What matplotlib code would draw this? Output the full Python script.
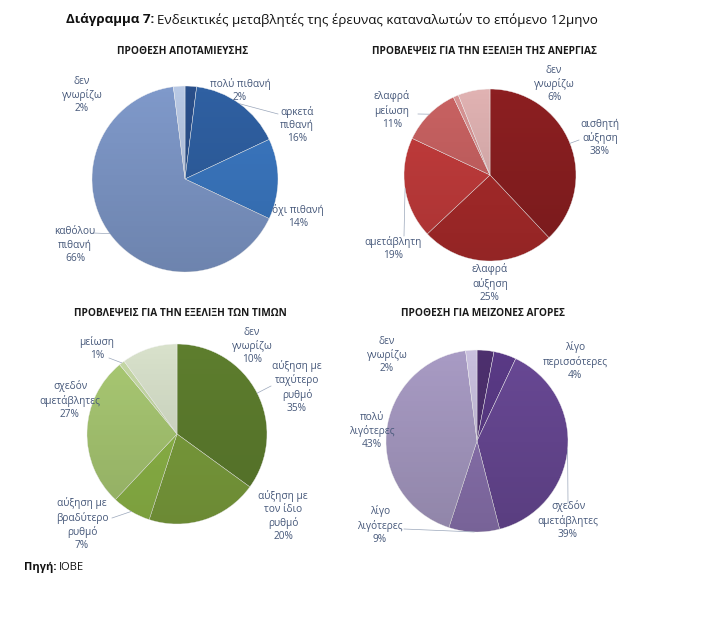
"""
Consumer survey indicators, next 12 months: four pies.
"""
import numpy as np
import matplotlib
matplotlib.use("Agg")
import matplotlib.pyplot as plt
from matplotlib.patches import Circle

plt.rcParams['font.family'] = ['Open Sans', 'DejaVu Sans']

# ---- data ----
saving_titles = "ΠΡΟΘΕΣΗ ΑΠΟΤΑΜΙΕΥΣΗΣ"
saving_labels = ["πολύ πιθανή", "αρκετά\nπιθανή", "όχι πιθανή", "καθόλου\nπιθανή", "δεν\nγνωρίζω"]
saving_values = [2, 16, 14, 66, 2]

unemp_title = "ΠΡΟΒΛΕΨΕΙΣ ΓΙΑ ΤΗΝ ΕΞΕΛΙΞΗ ΤΗΣ ΑΝΕΡΓΙΑΣ"
unemp_labels = ["αισθητή\nαύξηση", "ελαφρά\nαύξηση", "αμετάβλητη", "ελαφρά\nμείωση", "", "δεν\nγνωρίζω"]
unemp_values = [38, 25, 19, 11, 1, 6]

price_title = "ΠΡΟΒΛΕΨΕΙΣ ΓΙΑ ΤΗΝ ΕΞΕΛΙΞΗ ΤΩΝ ΤΙΜΩΝ"
price_labels = ["αύξηση με\nταχύτερο\nρυθμό", "αύξηση με\nτον ίδιο\nρυθμό", "αύξηση με\nβραδύτερο\nρυθμό",
                "σχεδόν\nαμετάβλητες", "μείωση", "δεν\nγνωρίζω"]
price_values = [35, 20, 7, 27, 1, 10]

purch_title = "ΠΡΟΘΕΣΗ ΓΙΑ ΜΕΙΖΟΝΕΣ ΑΓΟΡΕΣ"
purch_labels = ["", "λίγο\nπερισσότερες", "σχεδόν\nαμετάβλητες", "λίγο\nλιγότερες", "πολύ\nλιγότερες", "δεν\nγνωρίζω"]
purch_values = [3, 4, 39, 9, 43, 2]

# ---- styling / layout (pixels, y from top) ----
W, H = 710, 623
TXT = "#46587a"

charts = [
    dict(title=saving_titles, labels=saving_labels, values=saving_values,
         center=(185, 179), r=93, title_xy=(183, 51),
         colors=["#2a4f8a", "#2f60a2", "#3b78c2", "#7f99ca", "#b8c8e4"],
         pos=[(240, 90), (297, 125), (298, 216), (75, 245), (82, 95)],
         leaders=[None, (278, 114), None, (93, 233), None]),
    dict(title=unemp_title, labels=unemp_labels, values=unemp_values,
         center=(490, 175), r=86, title_xy=(485, 51),
         colors=["#8c1f21", "#ab2b2b", "#c43c3c", "#c96262", "#d89494", "#e0b2b2"],
         pos=[(600, 138), (490, 283), (393, 248), (392, 110), None, (554, 84)],
         leaders=[(579, 140), None, (404, 236), (418, 114), None, None]),
    dict(title=price_title, labels=price_labels, values=price_values,
         center=(177, 434), r=90, title_xy=(180, 313),
         colors=["#5e7e2e", "#7da03d", "#8fb848", "#a9c973", "#c6d9a6", "#d8e1cb"],
         pos=[(297, 387), (283, 516), (82, 524), (70, 400), (97, 349), (252, 346)],
         leaders=[(271, 386), None, (112, 518), None, (109, 358), None]),
    dict(title=purch_title, labels=purch_labels, values=purch_values,
         center=(477, 441), r=91, title_xy=(483, 313),
         colors=["#4d306e", "#5a3a86", "#684894", "#8b73b0", "#a89bc4", "#c9c0de"],
         pos=[None, (575, 361), (568, 520), (380, 525), (372, 431), (387, 355)],
         leaders=[None, None, (568, 503), (404, 529), None, None]),
]

fig = plt.figure(figsize=(W / 100, H / 100), dpi=100)
ax = fig.add_axes([0, 0, 1, 1])

for ch in charts:
    cx, cy = ch["center"][0], H - ch["center"][1]
    r = ch["r"]
    wedges, _ = ax.pie(ch["values"], colors=ch["colors"], startangle=90,
                       counterclock=False, center=(cx, cy), radius=r,
                       wedgeprops=dict(edgecolor="#f4f4f4", linewidth=0.3))
    # soft top-to-bottom shading like the original gradient fill
    grad = np.linspace(0, 1, 256).reshape(-1, 1)
    shade = np.zeros((256, 1, 4))
    shade[..., 3] = 0.14 * grad
    im = ax.imshow(shade, extent=(cx - r, cx + r, cy - r, cy + r),
                   origin="upper", zorder=3, aspect="auto", interpolation="bilinear")
    im.set_clip_path(Circle((cx, cy), r, transform=ax.transData))

    for w, lab, val, pos, lead in zip(wedges, ch["labels"], ch["values"],
                                        ch["pos"], ch["leaders"]):
        if pos is None:
            continue
        ax.text(pos[0], H - pos[1], f"{lab}\n{val}%", ha="center", va="center",
                fontsize=7.3, color=TXT, linespacing=1.25, zorder=5)
        if lead is not None:
            mid = np.deg2rad((w.theta1 + w.theta2) / 2)
            ex, ey = cx + r * np.cos(mid), cy + r * np.sin(mid)
            ax.plot([lead[0], ex], [H - lead[1], ey], color="#9aa6ba", lw=0.5, zorder=4)

    ax.text(ch["title_xy"][0], H - ch["title_xy"][1], ch["title"], ha="center",
            va="center", fontsize=7.3, fontweight="bold", color="#1a1a1a")

ax.set_xlim(0, W)
ax.set_ylim(0, H)
ax.set_aspect("auto")
ax.axis("off")

# titles with a bold lead-in
renderer = fig.canvas.get_renderer()
t1 = ax.text(66, H - 20, "Διάγραμμα 7:", fontsize=9.6, fontweight="bold",
             va="center", ha="left", color="#111111")
bb = t1.get_window_extent(renderer)
ax.text(bb.x1 + 3, H - 20, "Ενδεικτικές μεταβλητές της έρευνας καταναλωτών το επόμενο 12μηνο",
        fontsize=9.6, va="center", ha="left", color="#111111")

s1 = ax.text(24, H - 567, "Πηγή:", fontsize=8, fontweight="bold", va="center",
             ha="left", color="#111111")
bb = s1.get_window_extent(renderer)
ax.text(bb.x1 + 2, H - 567, "ΙΟΒΕ", fontsize=8, va="center", ha="left", color="#111111")

fig.savefig("out.png", dpi=100, facecolor="white")
